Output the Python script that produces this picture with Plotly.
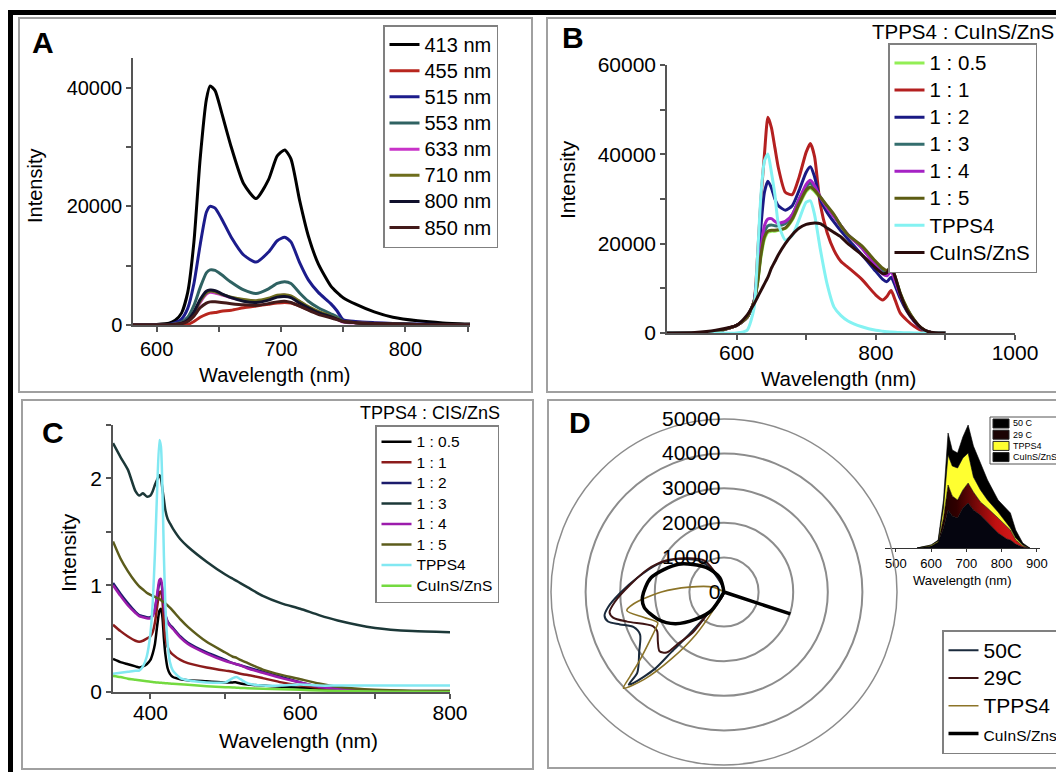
import plotly.graph_objects as go

W, H = 1056, 772
FONT = "Liberation Sans, Arial, Helvetica, sans-serif"


def px(x):
    return x / W


def py(y):
    return 1 - y / H


# ---------------- Panel A data ----------------
wl_A = [580, 600, 610, 615, 620, 625, 630, 635, 640, 643, 647, 652, 660, 670, 680,
        690, 697, 703, 708, 715, 722, 730, 740, 745, 750, 760, 775, 790, 810, 830, 852]
A_413 = [0, 100, 300, 800, 2000, 5500, 14000, 28000, 38000, 40300, 39500, 36000, 30000, 23800, 21300,
         24500, 28500, 29500, 28000, 21000, 15000, 10300, 6600, 5500, 4600, 3500, 2200, 1300, 700, 350, 150]
A_455 = [0, 0, 0, 0, 0, 100, 600, 1300, 1800, 2000, 2100, 2300, 2500, 2900, 3200,
         3500, 3700, 3800, 3700, 3200, 2600, 2000, 1400, 1100, 800, 500, 300, 180, 90, 40, 20]
A_515 = [0, 30, 100, 400, 1000, 2800, 7000, 13500, 19000, 20000, 19700, 18000, 14800, 11800, 10600,
         12300, 14200, 14800, 14000, 10500, 7600, 5500, 3600, 2400, 900, 600, 400, 250, 150, 80, 40]
A_553 = [0, 20, 50, 200, 500, 1300, 3300, 6300, 8800, 9300, 9200, 8500, 7200, 5900, 5300,
         6100, 7000, 7300, 7000, 5400, 4000, 2900, 1900, 1400, 600, 400, 250, 150, 80, 40, 20]
A_633 = [0, 10, 30, 120, 300, 800, 2000, 3800, 5200, 5500, 5400, 5100, 4600, 4200, 4000,
         4400, 4900, 5000, 4800, 3900, 3000, 2200, 1400, 1000, 500, 350, 220, 130, 70, 35, 15]
A_710 = [0, 10, 30, 120, 300, 800, 2100, 4000, 5400, 5700, 5600, 5200, 4700, 4300, 4100,
         4500, 5000, 5100, 4900, 4000, 3100, 2300, 1500, 1100, 600, 400, 250, 150, 80, 40, 20]
A_800 = [0, 10, 30, 120, 300, 850, 2200, 4300, 5700, 5900, 5800, 5300, 4600, 4000, 3800,
         4200, 4700, 4800, 4600, 3700, 2900, 2100, 1400, 1000, 600, 400, 250, 150, 80, 40, 20]
A_850 = [0, 10, 20, 80, 200, 600, 1500, 2900, 3700, 3900, 3900, 3800, 3600, 3400, 3300,
         3600, 3900, 4000, 3800, 3200, 2500, 1800, 1200, 900, 600, 400, 250, 150, 80, 40, 20]
A_names = ["413 nm", "455 nm", "515 nm", "553 nm", "633 nm", "710 nm", "800 nm", "850 nm"]
A_series = [A_413, A_455, A_515, A_553, A_633, A_710, A_800, A_850]
A_colors = ["#000000", "#b8261e", "#1c1c8c", "#2f6262", "#c833c8", "#6e6e1c", "#10102c", "#431a1a"]
A_xticks = [600, 650, 700, 750, 800, 850]
A_xtext = ["600", "", "700", "", "800", ""]
A_yticks = [0, 10000, 20000, 30000, 40000]
A_ytext = ["0", "", "20000", "", "40000"]

# ---------------- Panel B data ----------------
wl_B = [500, 540, 570, 600, 615, 625, 630, 635, 640, 645, 650, 655, 660, 670, 680, 690, 700, 706, 712,
        720, 730, 740, 750, 760, 780, 800, 810, 816, 822, 828, 835, 845, 855, 865, 875, 885, 900]
B_05 = [0, 0, 300, 1700, 3500, 7000, 11000, 17000, 21000, 22500, 22800, 22800, 23000, 23400, 25300, 28700,
        31700, 32400, 31700, 30200, 28200, 26300, 23800, 21800, 19300, 15800, 14300, 13800, 14600, 12300,
        8900, 5400, 2900, 1100, 300, 0, 0]
B_1 = [0, 0, 300, 1700, 3500, 7000, 17000, 30000, 40000, 48300, 46000, 41500, 37000, 31500, 31000, 35000,
       40500, 42400, 39500, 29000, 22500, 18500, 16000, 14700, 12000, 8500, 7400, 8200, 9500, 7300,
       4500, 2800, 1500, 600, 200, 0, 0]
B_2 = [0, 0, 300, 1700, 3500, 7000, 14000, 24000, 31500, 34000, 32500, 30000, 28500, 27500, 28500, 32000,
       36000, 37200, 35000, 30000, 27000, 24800, 22800, 21000, 17500, 13800, 12000, 11500, 12500, 10500,
       7800, 4800, 2600, 1000, 300, 0, 0]
B_3 = [0, 0, 300, 1700, 3500, 7000, 11500, 18000, 22500, 24000, 24200, 24000, 24000, 24500, 26500, 30000,
       32800, 33500, 32500, 30500, 28300, 26200, 24000, 22000, 19200, 15500, 13800, 13400, 14300, 12000,
       8700, 5300, 2900, 1100, 300, 0, 0]
B_4 = [0, 0, 300, 1700, 3500, 7000, 12000, 19000, 24000, 25500, 25600, 25000, 24600, 25000, 26500, 30000,
       33300, 34200, 33000, 30500, 28000, 26000, 24000, 22000, 19000, 15000, 13200, 12800, 13800, 11500,
       8500, 5200, 2800, 1100, 300, 0, 0]
B_5 = [0, 0, 300, 1700, 3500, 7000, 11000, 17500, 21500, 22800, 23000, 23000, 23100, 23500, 25500, 29000,
       32000, 32700, 32000, 30500, 28500, 26500, 24000, 22000, 19500, 16000, 14500, 14000, 14800, 12500,
       9000, 5500, 3000, 1200, 300, 0, 0]
B_T = [0, 0, 0, 0, 600, 5500, 17000, 31000, 38500, 40100, 36000, 31000, 24500, 20800, 21800, 25500,
       29300, 29600, 26500, 19000, 11000, 5800, 3900, 2700, 1400, 600, 400, 300, 200, 150,
       100, 50, 0, 0, 0, 0, 0]
B_Q = [0, 100, 600, 1700, 4000, 6500, 8000, 9500, 11000, 12500, 14500, 16000, 17500, 20000, 22000, 23500,
       24300, 24500, 24600, 24500, 23500, 22500, 21500, 20000, 17500, 14500, 13300, 13500, 14800, 12500,
       8800, 5000, 2800, 1200, 300, 50, 0]
B_names = ["1 : 0.5", "1 : 1", "1 : 2", "1 : 3", "1 : 4", "1 : 5", "TPPS4", "CuInS/ZnS"]
B_series = [B_05, B_1, B_2, B_3, B_4, B_5, B_T, B_Q]
B_colors = ["#92ee55", "#b42020", "#1a1a84", "#346e6e", "#a522c4", "#5c5c12", "#84f2f2", "#2a0c0c"]
B_xticks = [600, 700, 800, 900, 1000]
B_xtext = ["600", "", "800", "", "1000"]
B_yticks = [0, 10000, 20000, 30000, 40000, 50000, 60000]
B_ytext = ["0", "", "20000", "", "40000", "", "60000"]

# ---------------- Panel C data ----------------
wl_C = [350, 360, 370, 380, 385, 390, 395, 400, 403, 406, 409, 412, 414, 416, 418, 420, 423, 426,
        430, 440, 450, 475, 500, 510, 515, 520, 530, 550, 575, 600, 625, 650, 700, 750, 800]
C_05 = [0.31, 0.28, 0.26, 0.24, 0.23, 0.24, 0.26, 0.30, 0.36, 0.45, 0.62, 0.76, 0.78, 0.70, 0.50, 0.35,
        0.22, 0.17, 0.14, 0.12, 0.11, 0.10, 0.09, 0.09, 0.09, 0.08, 0.07, 0.06, 0.05, 0.04, 0.03, 0.02,
        0.01, 0.01, 0.01]
C_1 = [0.63, 0.57, 0.52, 0.48, 0.47, 0.48, 0.50, 0.52, 0.56, 0.65, 0.80, 0.93, 0.94, 0.85, 0.65, 0.50,
       0.42, 0.38, 0.35, 0.30, 0.27, 0.23, 0.20, 0.19, 0.18, 0.17, 0.16, 0.13, 0.09, 0.06, 0.04, 0.02,
       0.01, 0.00, 0.00]
C_2 = [1.02, 0.92, 0.83, 0.75, 0.72, 0.71, 0.70, 0.70, 0.72, 0.78, 0.90, 1.02, 1.03, 0.95, 0.82, 0.72,
       0.66, 0.63, 0.60, 0.52, 0.46, 0.37, 0.30, 0.27, 0.26, 0.25, 0.23, 0.19, 0.14, 0.09, 0.05, 0.03,
       0.01, 0.00, 0.00]
C_3 = [2.33, 2.20, 2.08, 1.88, 1.84, 1.86, 1.83, 1.84, 1.88, 1.94, 1.99, 2.03, 2.00, 1.90, 1.80, 1.70,
       1.62, 1.58, 1.53, 1.43, 1.36, 1.22, 1.10, 1.06, 1.04, 1.02, 0.98, 0.90, 0.83, 0.78, 0.72, 0.67,
       0.60, 0.57, 0.56]
C_4 = [1.00, 0.90, 0.81, 0.74, 0.71, 0.70, 0.69, 0.69, 0.71, 0.78, 0.92, 1.05, 1.06, 0.97, 0.83, 0.72,
       0.65, 0.62, 0.59, 0.51, 0.45, 0.36, 0.29, 0.27, 0.26, 0.25, 0.22, 0.18, 0.13, 0.09, 0.05, 0.03,
       0.01, 0.00, 0.00]
C_5 = [1.41, 1.25, 1.13, 1.03, 0.99, 0.96, 0.93, 0.91, 0.90, 0.89, 0.88, 0.87, 0.86, 0.85, 0.84, 0.83,
       0.81, 0.79, 0.76, 0.68, 0.61, 0.47, 0.37, 0.33, 0.32, 0.30, 0.27, 0.21, 0.16, 0.12, 0.08, 0.05,
       0.02, 0.01, 0.01]
C_T = [0.17, 0.18, 0.19, 0.20, 0.20, 0.24, 0.33, 0.55, 0.83, 1.30, 1.90, 2.36, 2.30, 1.90, 1.27, 0.80,
       0.45, 0.28, 0.20, 0.13, 0.11, 0.09, 0.09, 0.13, 0.14, 0.12, 0.08, 0.06, 0.06, 0.07, 0.06, 0.06,
       0.06, 0.06, 0.06]
C_Q = [0.15, 0.14, 0.125, 0.115, 0.11, 0.105, 0.10, 0.095, 0.093, 0.091, 0.089, 0.087, 0.086, 0.085,
       0.084, 0.083, 0.081, 0.079, 0.077, 0.072, 0.067, 0.055, 0.045, 0.042, 0.04, 0.038, 0.035, 0.03,
       0.025, 0.02, 0.015, 0.01, 0.005, 0.002, 0.0]
C_names = ["1 : 0.5", "1 : 1", "1 : 2", "1 : 3", "1 : 4", "1 : 5", "TPPS4", "CuInS/ZnS"]
C_series = [C_05, C_1, C_2, C_3, C_4, C_5, C_T, C_Q]
C_colors = ["#000000", "#8c1c1c", "#1c1c6c", "#1c3838", "#9c1cac", "#5c5c1c", "#82e8f2", "#74da40"]
C_xticks = [400, 500, 600, 700, 800]
C_xtext = ["400", "", "600", "", "800"]
C_yticks = [0, 0.5, 1, 1.5, 2, 2.5]
C_ytext = ["0", "", "1", "", "2", ""]

# ---------------- Panel D data (radar, theta in degrees clockwise from top) ----------------
D_50_theta = [205, 217, 219.5, 221.2, 222, 224.8, 225.8, 227.1, 234.8, 243.1, 248.7, 252.7, 255.7,
              258.8, 262.5, 269.3, 279.3, 292.9, 306, 321.6, 328.2, 340]
D_50_r = [0, 8600, 16000, 23000, 30000, 37000, 38400, 34200, 30000, 27200, 28000, 31500, 34600,
          35200, 33800, 30100, 25400, 20700, 16200, 11500, 8900, 0]
D_29_theta = [205, 217, 217.7, 221.5, 223.5, 227.4, 233.1, 239.6, 244.4, 253, 257, 259.9, 264.8,
              274.4, 286.6, 297.9, 311.2, 327.9, 340]
D_29_r = [0, 8600, 15000, 19800, 24100, 25300, 23900, 22400, 22800, 29300, 32900, 33600, 31700,
          27200, 23000, 19300, 14800, 10700, 0]
D_T_theta = [200, 205, 210.7, 213.5, 218.1, 222.4, 226.3, 228.1, 231.3, 236.4, 242.2, 245.1, 252.3,
             259.2, 262.6, 270, 277.9, 293.7, 300]
D_T_r = [0, 0, 6250, 14800, 24500, 34200, 40200, 36400, 30900, 25900, 22200, 21100, 24200,
         28600, 26300, 18100, 10200, 3500, 0]
D_Q_theta = [95, 100, 108.3, 116, 200, 214.3, 226.1, 237, 247.7, 259.2, 266.6, 281, 301.5, 323.9, 343.7, 355]
D_Q_r = [0, 0, 20200, 0, 0, 6500, 11300, 16800, 20700, 23500, 23600, 21500, 15400, 8800, 4300, 0]
D_names = ["50C", "29C", "TPPS4", "CuInS/Zns"]
D_colors = ["#1a2a3c", "#3e1414", "#8c7428", "#000000"]
D_widths = [2, 2, 1.6, 3.5]
D_rticks = [0, 10000, 20000, 30000, 40000, 50000]
D_rtext = ["0", "10000", "20000", "30000", "40000", "50000"]

# ---------------- Panel D inset (stacked area) ----------------
wl_I = [560, 600, 620, 635, 648, 660, 675, 690, 705, 720, 740, 760, 790, 815, 825, 840, 860, 880]
I_Q = [0, 800, 2400, 8000, 15200, 12800, 12000, 16000, 18000, 15200, 13200, 10400, 6000, 3600, 3200, 1600, 400, 0]
I_29 = [0, 0, 0, 4000, 10000, 8000, 7200, 7200, 8000, 7200, 5200, 5600, 6000, 4800, 4000, 1600, 400, 0]
I_T = [0, 400, 400, 4000, 12000, 12000, 12800, 12800, 12000, 6000, 4800, 3200, 2400, 1200, 800, 800, 400, 0]
I_50 = [0, 0, 400, 3200, 8800, 6400, 6000, 8400, 11200, 12400, 10800, 8000, 4800, 5600, 6000, 3200, 800, 0]
I_xticks = [500, 600, 700, 800, 900]
I_legend_names = ["50 C", "29 C", "TPPS4", "CuInS/ZnS"]
I_legend_colors = ["#000000", "#1c0404", "#ffff30", "#000000"]


def span(text, size):
    return f"<span style='font-size:{size}px'>{text}</span>"


fig = go.Figure()

for name, vals, col in zip(A_names, A_series, A_colors):
    fig.add_trace(go.Scatter(x=wl_A, y=vals, mode="lines", name=span(name, 20), xaxis="x", yaxis="y",
                             line=dict(color=col, width=3, shape="spline", smoothing=0.6),
                             legend="legend"))

for name, vals, col in zip(B_names, B_series, B_colors):
    fig.add_trace(go.Scatter(x=wl_B, y=vals, mode="lines", name=span(name, 20.5), xaxis="x2", yaxis="y2",
                             line=dict(color=col, width=3, shape="spline", smoothing=0.6),
                             legend="legend2"))

for name, vals, col in zip(C_names, C_series, C_colors):
    fig.add_trace(go.Scatter(x=wl_C, y=vals, mode="lines", name=span(name, 15.5), xaxis="x3", yaxis="y3",
                             line=dict(color=col, width=2.5, shape="spline", smoothing=0.6),
                             legend="legend3"))

for name, th, rr, col, wd in zip(D_names, [D_50_theta, D_29_theta, D_T_theta, D_Q_theta],
                                 [D_50_r, D_29_r, D_T_r, D_Q_r], D_colors, D_widths):
    label = span(name, 15.5) if name.startswith("CuInS") else span(name, 21)
    fig.add_trace(go.Scatterpolar(theta=th, r=rr, mode="lines", name=label,
                                  line=dict(color=col, width=wd, shape="spline", smoothing=0.8),
                                  legend="legend4", legendgroup=name))

inset_layers = [("CuInS/ZnS", I_Q, "#05050f"), ("29 C", I_29, "#8a0000"),
                ("TPPS4", I_T, "#ffff30"), ("50 C", I_50, "#000000")]
for name, vals, col in inset_layers:
    kw = {}
    if name == "29 C":
        kw["fillgradient"] = dict(type="horizontal",
                                  colorscale=[[0, "#000000"], [0.35, "#300000"], [0.7, "#c01010"], [1, "#e02020"]])
    fig.add_trace(go.Scatter(x=wl_I, y=vals, mode="lines", name=name, xaxis="x4", yaxis="y4",
                             stackgroup="inset", fillcolor=col, showlegend=False, legend="legend5",
                             line=dict(color="#000000", width=0.6), **kw))

axis_common = dict(showgrid=False, zeroline=False, showline=True, linecolor="#555555", linewidth=1.5,
                   ticks="outside", ticklen=5, tickwidth=1.5, tickcolor="#555555", automargin=False)


def tf(size):
    return dict(family=FONT, size=size, color="black")


legend_common = dict(xanchor="left", yanchor="top", bgcolor="white", bordercolor="#808080",
                     borderwidth=1.5, tracegroupgap=0, traceorder="normal",
                     itemclick=False, itemdoubleclick=False)

fig.update_layout(
    width=W, height=H, autosize=False,
    margin=dict(l=0, r=0, t=0, b=0, pad=0, autoexpand=False),
    paper_bgcolor="white", plot_bgcolor="white",
    font=dict(family=FONT, color="black"),
    showlegend=True,
    xaxis=dict(domain=[px(133), px(470)], range=[581, 852], anchor="y",
               tickvals=A_xticks, ticktext=A_xtext, tickfont=tf(20), **axis_common),
    yaxis=dict(domain=[py(325), py(58)], range=[0, 45000], anchor="x",
               tickvals=A_yticks, ticktext=A_ytext, tickfont=tf(20), **axis_common),
    xaxis2=dict(domain=[px(667), px(1015)], range=[500, 1000], anchor="y2", ticklabelstandoff=-5,
                tickvals=B_xticks, ticktext=B_xtext, tickfont=tf(21), **axis_common),
    yaxis2=dict(domain=[py(333), py(65)], range=[0, 60000], anchor="x2",
                tickvals=B_yticks, ticktext=B_ytext, tickfont=tf(21), **axis_common),
    xaxis3=dict(domain=[px(113), px(450)], range=[350, 800], anchor="y3", ticklabelstandoff=-4,
                tickvals=C_xticks, ticktext=C_xtext, tickfont=tf(21), **axis_common),
    yaxis3=dict(domain=[py(692), py(425)], range=[0, 2.5], anchor="x3",
                tickvals=C_yticks, ticktext=C_ytext, tickfont=tf(21), **axis_common),
    xaxis4=dict(domain=[px(885), px(1040)], range=[469, 909], anchor="y4",
                tickvals=I_xticks, tickfont=tf(13), showgrid=False, zeroline=False, showline=True,
                linecolor="#333333", linewidth=1.2, ticks="outside", ticklen=3, tickcolor="#333333",
                automargin=False),
    yaxis4=dict(domain=[py(548), py(423)], range=[0, 50000], anchor="x4", visible=False, automargin=False),
    polar=dict(
        domain=dict(x=[px(551), px(897)], y=[py(765), py(419)]),
        bgcolor="rgba(0,0,0,0)",
        radialaxis=dict(range=[0, 50000], tickvals=D_rticks, ticktext=D_rtext, showline=False,
                        showgrid=True, gridcolor="#8c8c8c", gridwidth=1.5, angle=90, tickangle=90,
                        ticks="", side="counterclockwise", tickfont=tf(21)),
        angularaxis=dict(rotation=90, direction="clockwise", showgrid=False, showticklabels=False,
                         ticks="", showline=True, linecolor="#8c8c8c", linewidth=1.5),
    ),
    legend=dict(x=px(383), y=py(25), font=tf(17.8), **legend_common),
    legend2=dict(x=px(888), y=py(43), font=tf(18.5), **legend_common),
    legend3=dict(x=px(375), y=py(425), font=tf(13.5), **legend_common),
    legend4=dict(x=px(942), y=py(630), font=tf(19), **{**legend_common, "tracegroupgap": 4}),
    legend5=dict(x=px(990), y=py(417), font=tf(9), **legend_common),
)

box_line = dict(color="#a0a0a0", width=2)
shapes = [
    dict(type="rect", xref="paper", yref="paper", x0=px(19), x1=px(532), y0=py(392), y1=py(18), line=box_line),
    dict(type="rect", xref="paper", yref="paper", x0=px(547), x1=px(1064), y0=py(392), y1=py(18), line=box_line),
    dict(type="rect", xref="paper", yref="paper", x0=px(22), x1=px(533), y0=py(769), y1=py(400), line=box_line),
    dict(type="rect", xref="paper", yref="paper", x0=px(548), x1=px(1064), y0=py(768), y1=py(400), line=box_line),
    dict(type="line", xref="paper", yref="paper", x0=px(8), x1=px(1064), y0=py(12.5), y1=py(12.5),
         line=dict(color="black", width=5)),
    dict(type="line", xref="paper", yref="paper", x0=px(10.5), x1=px(10.5), y0=py(10), y1=py(780),
         line=dict(color="black", width=5)),
    # inset legend frame
    dict(type="rect", xref="paper", yref="paper", x0=px(990), x1=px(1062), y0=py(464), y1=py(417),
         fillcolor="white", line=dict(color="#555555", width=1)),
]
annotations = []
for i, (nm, col) in enumerate(zip(I_legend_names, I_legend_colors)):
    cy = 423.5 + i * 11.2
    shapes.append(dict(type="rect", xref="paper", yref="paper", x0=px(993), x1=px(1009),
                       y0=py(cy + 4.5), y1=py(cy - 4.5), fillcolor=col,
                       line=dict(color="#222222", width=1)))
    annotations.append(dict(text=nm, x=px(1010.5), y=py(cy), xref="paper", yref="paper", showarrow=False,
                            xanchor="left", yanchor="middle", font=dict(family=FONT, size=9, color="black")))
fig.update_layout(shapes=shapes)


def ann(text, x, y, size, bold=False, angle=0, xanchor="center"):
    return dict(text=f"<b>{text}</b>" if bold else text, x=px(x), y=py(y), xref="paper", yref="paper",
                showarrow=False, xanchor=xanchor, yanchor="middle", textangle=angle,
                font=dict(family=FONT, size=size, color="black"))


annotations += [
    ann("A", 43, 43, 30, bold=True),
    ann("B", 573, 38, 30, bold=True),
    ann("C", 53, 432, 30, bold=True),
    ann("D", 580, 423, 30, bold=True),
    ann("Wavelength (nm)", 275, 375, 20),
    ann("Intensity", 35, 186, 20, angle=-90),
    ann("Wavelength (nm)", 838, 378, 20.5),
    ann("Intensity", 568, 180, 21, angle=-90),
    ann("Wavelength (nm)", 298, 740, 21),
    ann("Intensity", 68, 553, 21, angle=-90),
    ann("TPPS4 : CuInS/ZnS", 870, 31, 20.5, xanchor="left"),
    ann("TPPS4 : CIS/ZnS", 358, 413, 18, xanchor="left"),
    ann("Wavelength (nm)", 962, 580, 13),
]
fig.update_layout(annotations=annotations)

fig.write_html("out.html")
